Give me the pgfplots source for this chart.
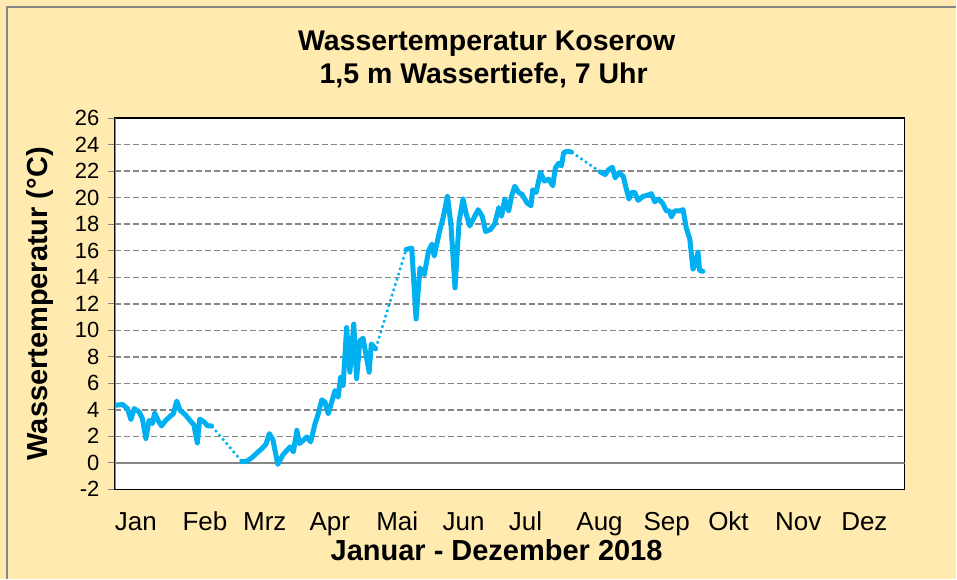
\documentclass[border=0pt]{standalone}
\usepackage{fontspec}
\setmainfont{Liberation Sans}
\usepackage{pgfplots}
\pgfplotsset{compat=1.18}
\definecolor{bgyellow}{HTML}{FFEAB0}
\definecolor{lineblue}{HTML}{00B0F0}
\definecolor{gridgray}{HTML}{868686}

\pgfplotstableread{
day temp
0 4.34
3.5 4.4
5.8 4.09
7.4 3.26
8.9 4.09
11.2 3.84
12.7 3.34
14.3 1.83
15.8 3.2
17.3 2.96
18.4 3.76
19.9 3.2
21.5 2.78
23.5 3.2
25.8 3.55
27.0 3.7
28.6 4.66
30.1 3.97
32.7 3.6
34.7 3.2
36.5 2.86
38.1 1.5
39.2 3.3
41.2 3.1
42.7 2.8
44.7 2.78
}\seriesA

\pgfplotstableread{
day temp
58.8 0.08
61.1 0.13
63.4 0.4
65.7 0.75
68.0 1.08
69.8 1.4
71.4 2.2
73.0 1.75
75.3 -0.12
77.6 0.58
79.5 0.95
81.0 1.2
82.5 0.83
84.1 2.45
85.3 1.45
87.1 1.7
88.7 1.95
90.5 1.58
92.5 2.96
94.0 3.7
95.6 4.75
97.1 4.58
98.6 3.7
100.2 4.58
101.7 5.45
103.2 4.96
104.3 6.47
105.5 5.84
107.1 10.2
108.6 6.84
110.4 10.47
111.7 6.35
113.2 9.2
114.7 9.4
117.5 6.84
118.5 8.97
120.5 8.6
}\seriesB

\pgfplotstableread{
day temp
134.6 16.1
137.2 16.2
139.2 10.85
141.0 14.7
143.0 14.2
145.0 16.0
146.5 16.5
147.6 15.6
149.9 17.37
151.7 18.5
153.7 20.1
155.3 18.0
157.2 13.2
159.1 18.25
160.9 19.9
162.4 18.75
164.0 17.87
166.0 18.5
167.9 19.1
169.8 18.6
171.3 17.45
173.6 17.6
175.6 18.05
177.4 19.25
178.7 18.6
180.2 19.9
182.0 19.0
183.3 20.1
184.8 20.87
186.6 20.4
188.2 20.25
190.5 19.6
192.3 19.4
193.1 20.6
194.7 20.4
196.7 21.9
198.5 21.25
200.5 21.4
202.4 20.9
203.6 22.25
205.1 22.6
206.4 22.4
207.4 23.4
209.0 23.5
211.0 23.45
}\seriesC

\pgfplotstableread{
day temp
224.3 21.95
226.6 21.75
228.1 22.1
229.9 22.3
231.2 21.5
233.0 21.9
235.0 21.6
236.0 20.9
237.6 19.9
238.8 20.4
240.3 20.4
241.8 19.8
244.1 20.1
246.4 20.2
248.0 20.3
249.5 19.7
251.4 19.9
253.3 19.55
254.9 19.0
256.4 19.0
257.2 18.55
258.7 19.0
261.0 19.0
262.6 19.1
264.1 17.7
265.7 16.9
267.2 14.6
268.3 15.0
269.5 15.9
270.3 14.5
271.8 14.45
}\seriesD

\begin{document}
\begin{tikzpicture}[x=1pt,y=1pt]
\fill[bgyellow] (0,0) rectangle (957,579);
\draw[gridgray, line width=1.5pt] (7,0) -- (7,572) -- (957,572);
\node[anchor=base, inner sep=0pt, font=\fontsize{28.5}{30}\selectfont\bfseries] at (487,528.3) {Wassertemperatur Koserow};
\node[anchor=base, inner sep=0pt, font=\fontsize{28.5}{30}\selectfont\bfseries] at (484,495.7) {1,5 m Wassertiefe, 7 Uhr};
\begin{axis}[
  at={(115pt,89.3pt)}, anchor=south west,
  width=790.3pt, height=371.4pt, scale only axis,
  xmin=0, xmax=365, ymin=-2, ymax=26,
  axis background/.style={fill=white},
  axis line style={black, line width=1.5pt},
  ytick={-2,0,...,26},
  xtick={9.7,41.6,69.3,99.3,130.5,161.2,189.8,224.0,255.0,283.6,315.8,346.4},
  xticklabels={Jan,Feb,Mrz,Apr,Mai,Jun,Jul,Aug,Sep,Okt,Nov,Dez},
  xtick style={draw=none},
  ytick style={gridgray, line width=1.2pt},
  tick align=outside, tick pos=left, major tick length=7pt,
  ymajorgrids, grid style={gridgray, line width=1.5pt, dash pattern=on 6pt off 3pt},
  /pgf/number format/assume math mode=true,
  yticklabel style={font=\fontsize{22}{24}\selectfont, anchor=east, xshift=-5pt},
  xticklabel style={font=\fontsize{26}{28}\selectfont, anchor=base, yshift=-34.5pt},
]
\addplot[gridgray, line width=1.5pt, forget plot] coordinates {(0,0) (365,0)};
\draw[gridgray, line width=1.5pt] (rel axis cs:0,0) -- (rel axis cs:0,1);
\addplot[lineblue, line width=2.5pt, dash pattern=on 2.5pt off 3pt] coordinates {(44.7,2.78) (58.8,0.08)};
\addplot[lineblue, line width=2.5pt, dash pattern=on 2.5pt off 3pt] coordinates {(120.5,8.6) (134.6,16.1)};
\addplot[lineblue, line width=2.5pt, dash pattern=on 2.5pt off 3pt] coordinates {(211.0,23.45) (224.3,21.95)};
\addplot[lineblue, line width=5pt, line join=round, line cap=round] table[x=day,y=temp] {\seriesA};
\addplot[lineblue, line width=5pt, line join=round, line cap=round] table[x=day,y=temp] {\seriesB};
\addplot[lineblue, line width=5pt, line join=round, line cap=round] table[x=day,y=temp] {\seriesC};
\addplot[lineblue, line width=5pt, line join=round, line cap=round] table[x=day,y=temp] {\seriesD};
\end{axis}
\node[anchor=base, inner sep=0pt, font=\fontsize{29}{31}\selectfont\bfseries] at (497,18.3) {Januar - Dezember 2018};
\node[rotate=90, inner sep=0pt, font=\fontsize{29}{31}\selectfont\bfseries] at (40,275) {Wassertemperatur (°C)};
\end{tikzpicture}
\end{document}
